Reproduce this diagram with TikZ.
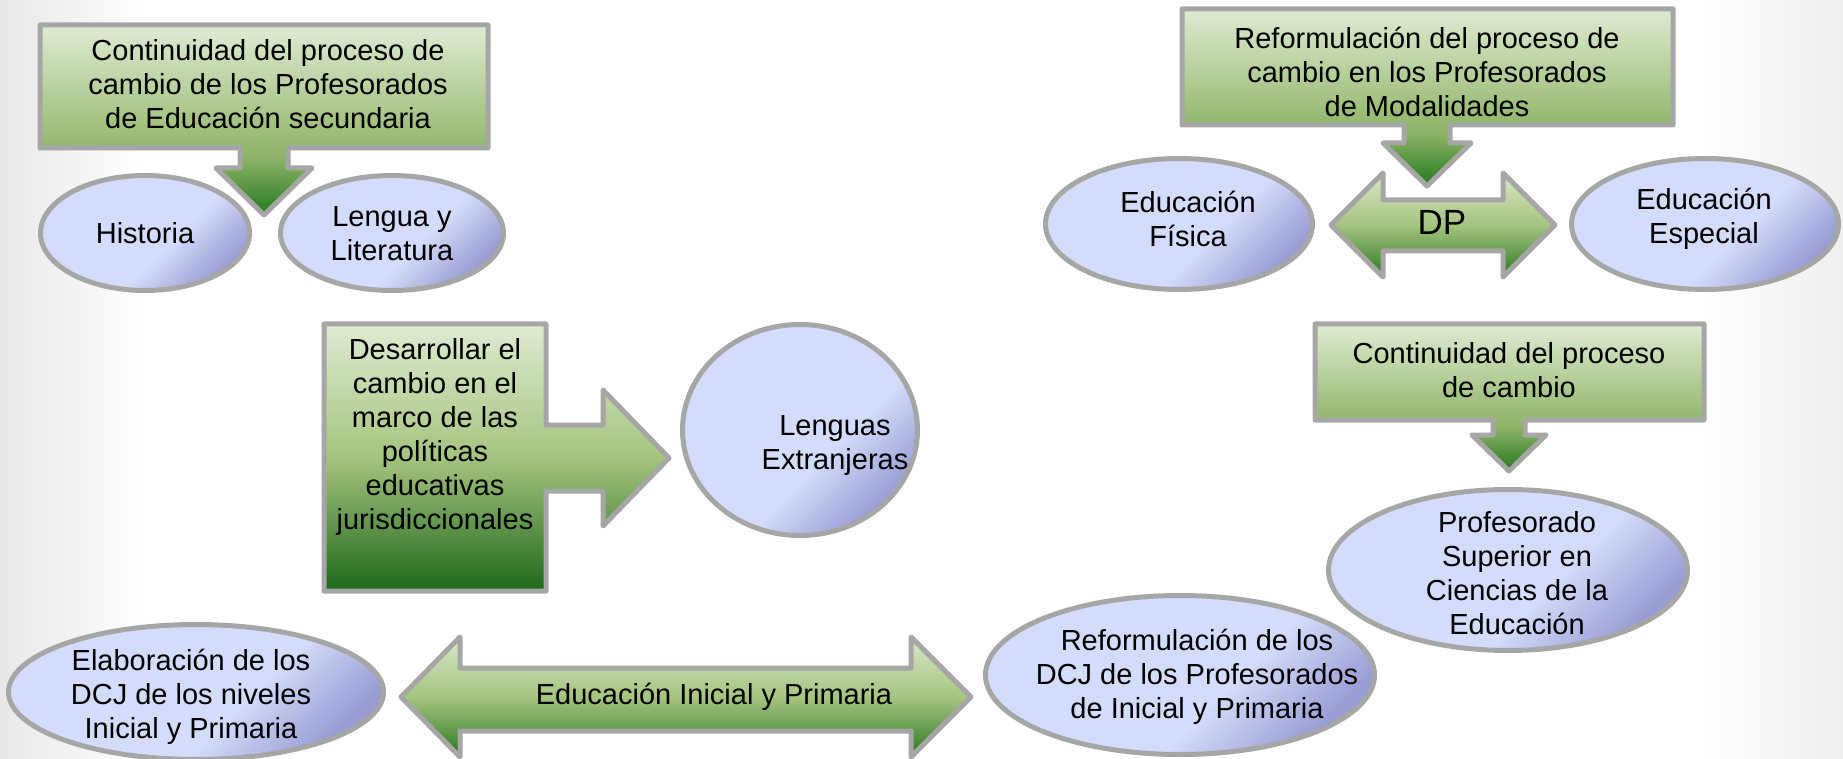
\documentclass[tikz,border=0pt]{standalone}
\usepackage{fontspec}
\setmainfont{Liberation Sans}
\usetikzlibrary{shapes.geometric}

\definecolor{rimGray}{HTML}{A6A6A6}
\definecolor{gLight}{HTML}{DFEBD2}
\definecolor{gMid}{HTML}{8DB365}
\definecolor{gDark}{HTML}{237A1E}
\definecolor{aLight}{HTML}{D9E7C9}
\definecolor{aMid}{HTML}{A5C47F}
\definecolor{aDark}{HTML}{2A7820}
\definecolor{eLight}{HTML}{D3DCFA}
\definecolor{eDark}{HTML}{989ED4}
\definecolor{bgL}{HTML}{E8E8E8}
\definecolor{bgR}{HTML}{EFEFEF}

\pgfdeclareverticalshading{calloutfall}{100bp}{color(0bp)=(gDark); color(25bp)=(gDark); color(40bp)=(gMid); color(75bp)=(gLight); color(100bp)=(gLight)}
\pgfdeclareverticalshading{bubbleglow}{100bp}{color(0bp)=(eDark); color(25bp)=(eDark); color(42bp)=(eLight); color(100bp)=(eLight)}
\pgfdeclarehorizontalshading{slidebg}{100bp}{color(0bp)=(bgL); color(25bp)=(bgL); color(29bp)=(white); color(71bp)=(white); color(75bp)=(bgR); color(100bp)=(bgR)}

\begin{document}
\begin{tikzpicture}[x=0.5pt,y=-0.5pt,
  bubble/.style={ellipse,shade,shading=bubbleglow,shading angle=45,draw=rimGray,line width=2.5pt,inner sep=0pt},
  callout/.style={shade,shading=calloutfall,draw=rimGray,line width=2.5pt,line join=round},
  twoway/.style={draw=rimGray,line width=2.5pt,line join=round,top color=aLight,bottom color=aDark,middle color=aMid},
  txt/.style={inner sep=0pt,align=center,font=\fontsize{14.5}{17}\selectfont}]

\useasboundingbox (0,0) rectangle (1843,759);
\shade[shading=slidebg] (0,0) rectangle (1843,759);

%ellipses
\node[bubble,minimum width=104.5pt,minimum height=57.5pt] (hist) at (145,233) {};
\node[bubble,minimum width=111.5pt,minimum height=57.5pt] (leng) at (392,233) {};
\node[bubble,minimum width=133.5pt,minimum height=65.5pt] (fis) at (1179,224) {};
\node[bubble,minimum width=133.5pt,minimum height=65.5pt] (esp) at (1705,224) {};
\node[bubble,minimum width=117.5pt,minimum height=105.5pt] (lext) at (800,430) {};
\node[bubble,minimum width=179.5pt,minimum height=80.5pt] (prof) at (1508,570) {};
\node[bubble,minimum width=194.5pt,minimum height=79.5pt] (refo) at (1180,675) {};
\node[bubble,minimum width=187.5pt,minimum height=67.5pt] (elab) at (196,692) {};

%callouts
\draw[callout] (40,25) -- (488,25) -- (488,148) -- (288,148) -- (288,168) -- (312,168) -- (264,215) -- (216,168) -- (240,168) -- (240,148) -- (40,148) -- cycle;
\draw[callout] (1182,9) -- (1673,9) -- (1673,125) -- (1450,125) -- (1450,143) -- (1471,143) -- (1427,186) -- (1383,143) -- (1404,143) -- (1404,125) -- (1182,125) -- cycle;
\draw[callout] (1315,324) -- (1704,324) -- (1704,420) -- (1525,420) -- (1525,435) -- (1546,435) -- (1509,471) -- (1472,435) -- (1493,435) -- (1493,420) -- (1315,420) -- cycle;
\draw[draw=rimGray,line width=2.5pt,line join=round,top color=gLight,bottom color=gDark!85!black,middle color=aMid]
  (324,324) -- (546,324) -- (546,425) -- (603,425) -- (603,390) -- (669,458) -- (603,526) -- (603,491) -- (546,491) -- (546,591) -- (324,591) -- cycle;

%double arrows
\draw[twoway] (1331,225) -- (1383,173) -- (1383,200) -- (1503,200) -- (1503,173) -- (1555,225) -- (1503,277) -- (1503,251) -- (1383,251) -- (1383,277) -- cycle;
\draw[twoway] (401,697) -- (460,637) -- (460,668) -- (911,668) -- (911,637) -- (971,697) -- (911,757) -- (911,731) -- (460,731) -- (460,757) -- cycle;

%texts
\node[txt] (tlText) at (268,84) {Continuidad del proceso de\\cambio de los Profesorados\\de Educación secundaria};
\node[txt] (trText) at (1427,72) {Reformulación del proceso de\\cambio en los Profesorados\\de Modalidades};
\node[txt] (crText) at (1509,370) {Continuidad del proceso\\de cambio};
\node[txt] (desText) at (435,437) {Desarrollar el\\cambio en el\\marco de las\\políticas\\educativas\\jurisdiccionales};
\node[txt,font=\fontsize{17.5}{20}\selectfont] (dpText) at (1442,222) {DP};
\node[txt] (iniText) at (714,697) {Educación Inicial y Primaria};
\node[txt] (histText) at (145,233) {Historia};
\node[txt] (lengText) at (392,234) {Lengua y\\Literatura};
\node[txt] (fisText) at (1188,219) {Educación\\Física};
\node[txt] (espText) at (1704,219) {Educación\\Especial};
\node[txt] (lextText) at (835,446) {Lenguas\\Extranjeras};
\node[txt] (profText) at (1517,573) {Profesorado\\Superior en\\Ciencias de la\\Educación};
\node[txt] (refoText) at (1197,677) {Reformulación de los\\DCJ de los Profesorados\\de Inicial y Primaria};
\node[txt] (elabText) at (191,697) {Elaboración de los\\DCJ de los niveles\\Inicial y Primaria};

\end{tikzpicture}
\end{document}
